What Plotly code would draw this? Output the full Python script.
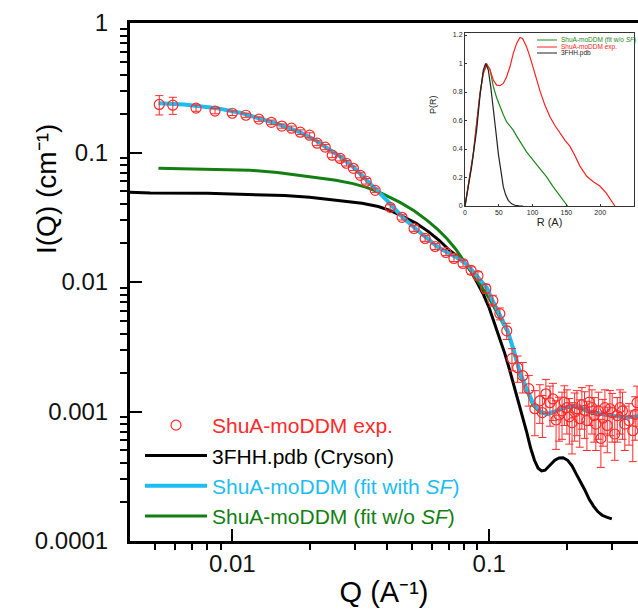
import plotly.graph_objects as go

# ---------------- data ----------------
exp_q = [0.0052, 0.00587, 0.00723, 0.00857, 0.0100, 0.0113, 0.0127, 0.0142, 0.0156, 0.0170,
         0.0184, 0.0200, 0.0214, 0.0230, 0.0245, 0.0263, 0.0278, 0.0296, 0.0315, 0.0332,
         0.0360, 0.0412, 0.0458, 0.0510, 0.0563, 0.0616, 0.0679, 0.0729, 0.0791, 0.0850,
         0.0904, 0.0970, 0.1033, 0.110, 0.117, 0.1226, 0.129, 0.135, 0.1426, 0.1505,
         0.1574, 0.161, 0.1662, 0.1723, 0.177, 0.182, 0.187, 0.192, 0.196, 0.2006,
         0.205, 0.210, 0.215, 0.2195, 0.225, 0.2294, 0.235, 0.240, 0.245, 0.251,
         0.256, 0.260, 0.266, 0.272, 0.277, 0.282, 0.288, 0.295, 0.301, 0.308,
         0.315, 0.323, 0.330, 0.337, 0.350, 0.362, 0.370, 0.376]
exp_i = [0.235, 0.232, 0.220, 0.209, 0.201, 0.194, 0.181, 0.171, 0.160, 0.154,
         0.1435, 0.136, 0.118, 0.110, 0.0953, 0.090, 0.0826, 0.0755, 0.0667, 0.060,
         0.051, 0.0377, 0.0316, 0.0259, 0.0217, 0.0188, 0.0169, 0.0152, 0.0139, 0.0123,
         0.0112, 0.0089, 0.0072, 0.0057, 0.0042, 0.00256, 0.00218, 0.00189, 0.0015, 0.00105,
         0.00121, 0.00098, 0.00137, 0.00117, 0.00125, 0.00086, 0.00094, 0.00101, 0.00118, 0.00107,
         0.00091, 0.00082, 0.00099, 0.00105, 0.00088, 0.00113, 0.00102, 0.00085, 0.00118, 0.00107,
         0.00093, 0.00080, 0.00101, 0.00062, 0.00089, 0.00107, 0.00078, 0.00105, 0.00098, 0.00067,
         0.00093, 0.00107, 0.00101, 0.00080, 0.00085, 0.00071, 0.00095, 0.00117]
exp_err = [0.040, 0.035, 0.012, 0.010, 0.008, 0.007, 0.007, 0.007, 0.006, 0.006,
           0.006, 0.006, 0.005, 0.005, 0.004, 0.004, 0.004, 0.003, 0.003, 0.003,
           0.002, 0.0018, 0.0015, 0.0013, 0.0011, 0.0010, 0.0009, 0.0008, 0.0008, 0.0008,
           0.0008, 0.0007, 0.0007, 0.0006, 0.0006, 0.0005, 0.0005, 0.0005, 0.0004, 0.0004,
           0.0004, 0.00035, 0.0004, 0.0004, 0.0004, 0.00035, 0.00035, 0.0004, 0.0004, 0.0004,
           0.00035, 0.00035, 0.0004, 0.0004, 0.00035, 0.0004, 0.0004, 0.00035, 0.0004, 0.0004,
           0.00035, 0.0003, 0.0004, 0.00025, 0.00035, 0.0004, 0.0003, 0.0004, 0.0004, 0.00025,
           0.00035, 0.0004, 0.0004, 0.0003, 0.0003, 0.0003, 0.00035, 0.0004]

cryson_q = [0.004, 0.0048, 0.008, 0.012, 0.016, 0.020, 0.026, 0.032, 0.037, 0.041,
            0.046, 0.052, 0.058, 0.064, 0.070, 0.079, 0.085, 0.090, 0.095, 0.100,
            0.105, 0.110, 0.115, 0.120, 0.125, 0.130, 0.135, 0.140, 0.145, 0.150,
            0.155, 0.160, 0.165, 0.172, 0.180, 0.187, 0.194, 0.202, 0.210, 0.218,
            0.226, 0.235, 0.245, 0.255, 0.265, 0.275, 0.288, 0.300]
cryson_i = [0.0493, 0.0486, 0.0484, 0.0476, 0.0465, 0.0451, 0.0427, 0.0405, 0.0383, 0.0357,
            0.0322, 0.0284, 0.0245, 0.0209, 0.0176, 0.0147, 0.0121, 0.0099, 0.0080, 0.0063,
            0.0048, 0.0037, 0.0028, 0.0021, 0.00158, 0.00118, 0.00090, 0.00069, 0.00052, 0.00042,
            0.000365, 0.000348, 0.000352, 0.00038, 0.00042, 0.000438, 0.00044, 0.00042, 0.00038, 0.00033,
            0.00029, 0.00025, 0.00021, 0.000185, 0.000168, 0.000158, 0.000152, 0.000148]

fit_sf_q = [0.00516, 0.0065, 0.0087, 0.0107, 0.0128, 0.0155, 0.0183, 0.021, 0.0234, 0.0265,
            0.0295, 0.033, 0.0366, 0.041, 0.0461, 0.0524, 0.0575, 0.0627, 0.0684, 0.075,
            0.0818, 0.0865, 0.092, 0.098, 0.103, 0.110, 0.118, 0.125, 0.132, 0.140,
            0.148, 0.158, 0.168, 0.180, 0.195, 0.212, 0.230, 0.250, 0.270, 0.300,
            0.343, 0.380]
fit_sf_i = [0.240, 0.235, 0.220, 0.203, 0.183, 0.163, 0.1435, 0.125, 0.108, 0.092,
            0.0775, 0.063, 0.051, 0.0405, 0.0315, 0.0252, 0.0215, 0.0188, 0.0170, 0.0154,
            0.0137, 0.0121, 0.0106, 0.0090, 0.0072, 0.0056, 0.0042, 0.0029, 0.00196, 0.0015,
            0.00116, 0.00100, 0.00096, 0.00100, 0.00107, 0.00111, 0.00106, 0.00099, 0.00096, 0.00093,
            0.00090, 0.00092]

fit_nosf_q = [0.00516, 0.008, 0.0117, 0.015, 0.0183, 0.022, 0.0253, 0.0295, 0.0333, 0.038,
              0.045, 0.051, 0.0573, 0.063, 0.0684, 0.074, 0.079, 0.085, 0.092, 0.100,
              0.107, 0.113, 0.118, 0.125, 0.132, 0.140, 0.148, 0.158, 0.168, 0.180,
              0.195, 0.212, 0.230, 0.250, 0.270, 0.300, 0.340, 0.380]
fit_nosf_i = [0.0755, 0.0745, 0.0729, 0.0702, 0.0667, 0.0640, 0.0610, 0.0575, 0.0538, 0.0485,
              0.0412, 0.0355, 0.0299, 0.0255, 0.0217, 0.0180, 0.0150, 0.0121, 0.0096, 0.0075,
              0.0058, 0.0048, 0.0041, 0.0029, 0.0019, 0.00145, 0.00112, 0.00098, 0.00095, 0.00099,
              0.00106, 0.00109, 0.00104, 0.00097, 0.00095, 0.00092, 0.00090, 0.00091]

# inset P(R)
pr_fit_r = [0, 7.4, 12.3, 17.2, 22.2, 27, 32, 37, 41.9, 46.8, 51.7, 56.7, 61.6, 66.5, 71.4,
            76.4, 81.3, 91, 101, 110.8, 120.7, 130.5, 140.4, 147.8, 151.7]
pr_fit_p = [0, 0.204, 0.368, 0.579, 0.79, 0.93, 0.99, 0.96, 0.837, 0.76, 0.696, 0.64, 0.59, 0.56, 0.532,
            0.49, 0.45, 0.38, 0.32, 0.262, 0.204, 0.134, 0.075, 0.028, 0]
pr_exp_r = [0, 7.4, 12.3, 17.2, 22.2, 27, 32, 37, 41.9, 46.8, 51.7, 56.7, 61.6, 66.5, 71.4,
            76.4, 81.3, 85.2, 91, 96, 103, 110.8, 118, 125.6, 133, 140.4, 148, 155, 162,
            170, 179.8, 189.7, 199.5, 209, 215, 219, 221.7]
pr_exp_p = [0, 0.204, 0.368, 0.579, 0.79, 0.93, 1.0, 0.954, 0.884, 0.848, 0.844, 0.86, 0.907, 0.977, 1.071,
            1.141, 1.183, 1.176, 1.118, 1.048, 0.93, 0.81, 0.71, 0.626, 0.565, 0.51, 0.46, 0.42, 0.36,
            0.28, 0.21, 0.17, 0.14, 0.09, 0.05, 0.016, 0]
pr_pdb_r = [0, 5, 9.8, 13, 17.2, 22, 27, 30.5, 34.5, 38, 41.9, 45.5, 49.3, 53, 56.7, 60, 64, 69, 73.9, 80, 86]
pr_pdb_p = [0, 0.13, 0.274, 0.39, 0.53, 0.766, 0.954, 1.0, 0.954, 0.84, 0.696, 0.53, 0.368, 0.24, 0.134,
            0.08, 0.04, 0.015, 0.005, 0.001, 0]

y_ticks = [1, 0.1, 0.01, 0.001, 0.0001]
y_ticktext = ["1", "0.1", "0.01", "0.001", "0.0001"]
x_ticks = [0.01, 0.1]
x_ticktext = ["0.01", "0.1"]

# ---------------- styling ----------------
RED = "#ff2a2a"
CYAN = "#1cbdf2"
GREEN = "#137f13"
BLACK = "#000000"
FONT = "Liberation Sans, Arial, sans-serif"

W, H = 638, 612
L, R_, T, B = 130, 0, 23, 71
PW, PH = W - L - R_, H - T - B


def px_x(px):
    return (px - L) / PW


def px_y(py):
    return (H - B - py) / PH


fig = go.Figure()

fig.add_trace(go.Scatter(x=cryson_q, y=cryson_i, mode="lines",
                         line=dict(color=BLACK, width=3),
                         name="3FHH.pdb (Cryson)", legendrank=2))
fig.add_trace(go.Scatter(x=fit_nosf_q, y=fit_nosf_i, mode="lines",
                         line=dict(color=GREEN, width=3),
                         name='<span style="color:%s">ShuA-moDDM (fit w/o <i>SF</i>)</span>' % GREEN,
                         legendrank=4))
fig.add_trace(go.Scatter(x=fit_sf_q, y=fit_sf_i, mode="lines",
                         line=dict(color=CYAN, width=4),
                         name='<span style="color:%s">ShuA-moDDM (fit with <i>SF</i>)</span>' % CYAN,
                         legendrank=3))
# error bars of the experimental points (no legend entry)
fig.add_trace(go.Scatter(x=exp_q, y=exp_i, mode="markers",
                         marker=dict(size=1, color="rgba(0,0,0,0)"),
                         error_y=dict(type="data", array=exp_err, visible=True, color=RED,
                                      thickness=1, width=4),
                         showlegend=False, hoverinfo="skip"))
# experimental points
fig.add_trace(go.Scatter(x=exp_q, y=exp_i, mode="markers",
                         marker=dict(symbol="circle-open", size=10, color=RED, line=dict(width=1.2, color=RED)),
                         name='<span style="color:%s">ShuA-moDDM exp.</span>' % RED,
                         legendrank=1))

# inset traces
fig.add_trace(go.Scatter(x=pr_fit_r, y=pr_fit_p, mode="lines", line=dict(color="#1a8a1a", width=1.2),
                         xaxis="x2", yaxis="y2", showlegend=False))
fig.add_trace(go.Scatter(x=pr_exp_r, y=pr_exp_p, mode="lines", line=dict(color="#ff2020", width=1.2),
                         xaxis="x2", yaxis="y2", showlegend=False))
fig.add_trace(go.Scatter(x=pr_pdb_r, y=pr_pdb_p, mode="lines", line=dict(color="#222222", width=1.2),
                         xaxis="x2", yaxis="y2", showlegend=False))

minor_vals = [m * 10 ** e for e in (-4, -3, -2, -1) for m in range(2, 10)]

fig.update_layout(
    width=W, height=H,
    margin=dict(l=L, r=R_, t=T, b=B, pad=0),
    paper_bgcolor="white", plot_bgcolor="white",
    font=dict(family=FONT, color="#111"),
    showlegend=True,
    legend=dict(x=px_x(140), y=px_y(405), xanchor="left", yanchor="top",
                bgcolor="rgba(0,0,0,0)", borderwidth=0,
                font=dict(size=21, family=FONT, color=BLACK),
                itemwidth=62, tracegroupgap=0),
    xaxis=dict(type="log", range=[-2.39794, -0.421], tickmode="array",
               tickvals=x_ticks, ticktext=x_ticktext,
               title=dict(text="Q (A\u207b\u00b9)", font=dict(size=29, color=BLACK), standoff=6),
               ticks="inside", ticklen=12, tickwidth=2, tickcolor=BLACK,
               showline=True, linewidth=3, linecolor=BLACK, mirror=True,
               showgrid=False, zeroline=False,
               tickfont=dict(size=24, color="#111"), ticklabelstandoff=-1,
               minor=dict(tickmode="array", tickvals=minor_vals, ticks="outside",
                          ticklen=6, tickwidth=1.5, tickcolor=BLACK, showgrid=False)),
    yaxis=dict(type="log", range=[-4, 0], tickmode="array",
               tickvals=y_ticks, ticktext=y_ticktext,
               ticks="inside", ticklen=12, tickwidth=2, tickcolor=BLACK,
               showline=True, linewidth=3, linecolor=BLACK, mirror=False,
               showgrid=False, zeroline=False,
               tickfont=dict(size=24, color="#111"), ticklabelstandoff=14,
               minor=dict(tickmode="array", tickvals=minor_vals, ticks="outside",
                          ticklen=7, tickwidth=1.5, tickcolor=BLACK, showgrid=False)),
    xaxis2=dict(domain=[px_x(465), px_x(634)], anchor="y2", range=[0, 250], dtick=50,
                title=dict(text="R (A)", font=dict(size=11, color="#222"), standoff=2),
                showline=True, mirror=True, linewidth=1, linecolor="#333",
                ticks="inside", ticklen=2, tickcolor="#333", showgrid=False, zeroline=False,
                tickfont=dict(size=7, color="#222")),
    yaxis2=dict(domain=[px_y(206), px_y(33)], anchor="x2", range=[0, 1.214],
                tickmode="array", tickvals=[0, 0.2, 0.4, 0.6, 0.8, 1.0, 1.2],
                ticktext=["0", "0.2", "0.4", "0.6", "0.8", "1", "1.2"],
                showline=True, mirror=True, linewidth=1, linecolor="#333",
                ticks="inside", ticklen=2, tickcolor="#333", showgrid=False, zeroline=False,
                tickfont=dict(size=7, color="#222")),
)

annotations = [
    dict(text="I(Q) (cm\u207b\u00b9)", x=px_x(46), y=px_y(189), textangle=-90,
         font=dict(size=28, color=BLACK)),
    dict(text="P(R)", x=px_x(433), y=px_y(105), textangle=-90,
         font=dict(size=9, color="#222")),
]
for a in annotations:
    a.update(xref="paper", yref="paper", showarrow=False, xanchor="center", yanchor="middle")

inset_legend = [("ShuA-moDDM (fit w/o <i>SF</i>)", "#1a8a1a", 40),
                ("ShuA-moDDM exp.", "#ff2020", 47),
                ("3FHH.pdb", "#222222", 53)]
shapes = []
for txt, col, yy in inset_legend:
    annotations.append(dict(text=txt, x=px_x(559), y=px_y(yy), xref="paper", yref="paper",
                            xanchor="left", yanchor="middle",
                            font=dict(size=6.5, color=col), showarrow=False))
    shapes.append(dict(type="line", xref="paper", yref="paper", x0=px_x(537), x1=px_x(557),
                       y0=px_y(yy), y1=px_y(yy), line=dict(color=col, width=1)))
fig.update_layout(annotations=annotations, shapes=shapes)

fig.write_html("out.html",
               config={"displayModeBar": False},
               post_script="document.body.style.margin='0';document.body.style.overflow='hidden';")
